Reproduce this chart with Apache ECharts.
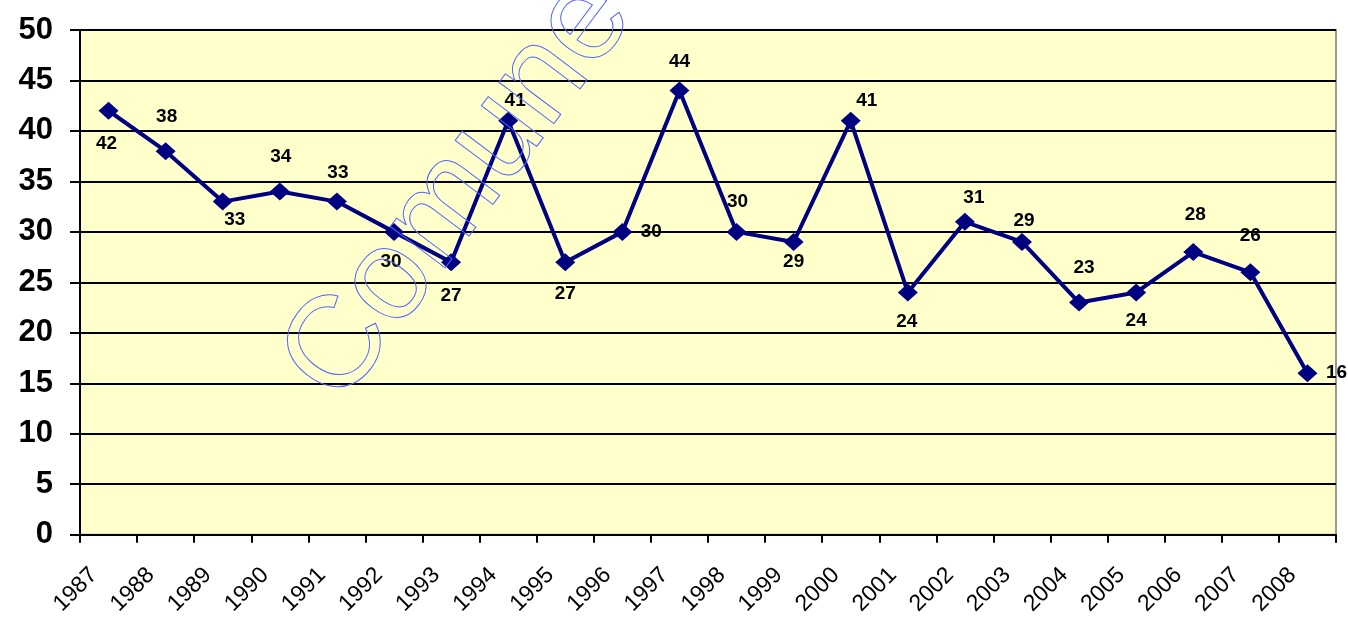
<!DOCTYPE html>
<html>
<head>
<meta charset="utf-8">
<style>
html,body{margin:0;padding:0;background:#fff;}
#chart{width:1348px;height:618px;}
</style>
<script src="https://cdn.jsdelivr.net/npm/echarts@6/dist/echarts.min.js"></script>
</head>
<body>
<div id="chart"></div>
<script>
var categories = ['1987','1988','1989','1990','1991','1992','1993','1994','1995','1996','1997','1998','1999','2000','2001','2002','2003','2004','2005','2006','2007','2008'];
var values = [42,38,33,34,33,30,27,41,27,30,44,30,29,41,24,31,29,23,24,28,26,16];
var yTicks = [0,5,10,15,20,25,30,35,40,45,50];
// label placement offsets (dx, dy) in pixels, per point
var labelOffsets = [[-2,33],[1,-34],[12,18],[1,-35],[1,-29],[-3,30],[0,34],[7,-20],[0,32],[29,0],[0,-29],[1,-30],[0,20],[16,-20],[-1,29],[9,-24],[2,-21],[5,-35],[0,28],[2,-37],[0,-36],[29,0]];

var FONT = 'Arial, "Liberation Sans", sans-serif';
var chart = echarts.init(document.getElementById('chart'));
var seriesData = values.map(function(v, i){
  return {value: v, label: {offset: labelOffsets[i]}};
});
chart.setOption({
  animation: false,
  grid: {left: 80, right: 12, top: 30, bottom: 81, show: true, backgroundColor: '#FFFFCC', borderColor: '#999999', borderWidth: 2},
  xAxis: {
    type: 'category',
    data: categories,
    boundaryGap: true,
    axisLine: {lineStyle: {color: '#000', width: 2}},
    axisTick: {show: true, length: 8, lineStyle: {color: '#000', width: 2}},
    axisLabel: {
      rotate: 45, margin: 22, interval: 0,
      formatter: function(v){ return '{a|' + v + '}'; },
      rich: {a: {fontFamily: FONT, fontSize: 23, color: '#000', padding: [0, 21, 0, 0]}}
    },
    splitLine: {show: false}
  },
  yAxis: {
    type: 'value', min: 0, max: 50, interval: 5,
    axisLine: {show: true, lineStyle: {color: '#000', width: 2}},
    axisTick: {show: true, length: 10, lineStyle: {color: '#000', width: 2}},
    axisLabel: {fontFamily: FONT, fontSize: 31, fontWeight: 'bold', color: '#000', margin: 27,
      formatter: function(v){ return yTicks.indexOf(v) >= 0 ? String(v) : ''; }},
    splitLine: {show: true, lineStyle: {color: '#000', width: 2}}
  },
  series: [{
    type: 'line',
    data: seriesData,
    symbol: 'diamond',
    symbolSize: [20, 18],
    lineStyle: {color: '#000080', width: 4},
    itemStyle: {color: '#000080'},
    label: {show: true, position: 'inside', fontFamily: FONT, fontSize: 19, fontWeight: 'bold', color: '#000'},
    z: 3
  }],
  graphic: [{
    type: 'text',
    x: 459, y: 190,
    rotation: 53 * Math.PI / 180,
    z: 100,
    silent: true,
    style: {
      text: 'Comune',
      font: '130px ' + FONT,
      fill: 'transparent',
      stroke: '#5566ff',
      lineWidth: 1,
      textAlign: 'center',
      textVerticalAlign: 'middle',
      align: 'center',
      verticalAlign: 'middle'
    }
  }]
});
</script>
</body>
</html>
